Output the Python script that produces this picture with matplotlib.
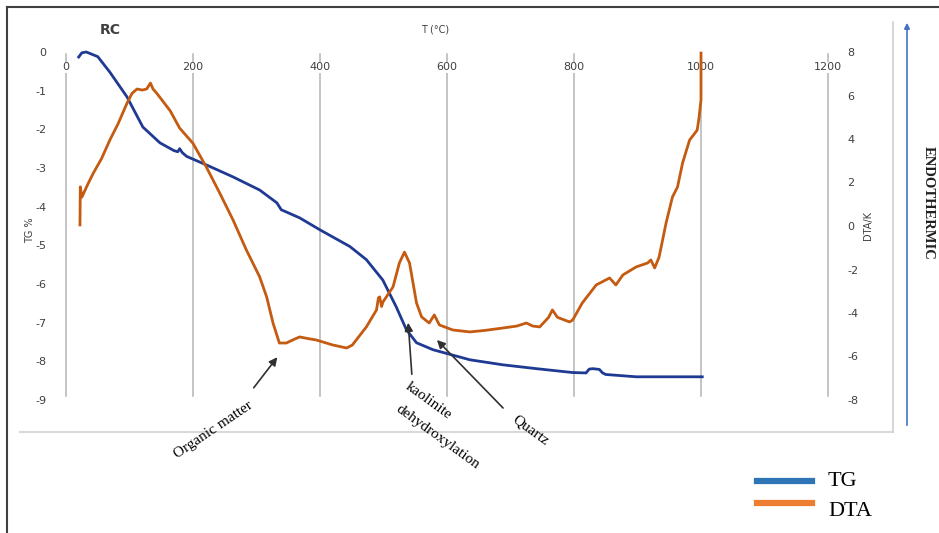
import numpy as np
import matplotlib
matplotlib.use("Agg")
import matplotlib.pyplot as plt
from matplotlib.patches import FancyArrowPatch

############################ Data ############################
# TG curve (left axis, %)
tg_T = [20, 25, 32, 50, 69, 96, 121, 148, 170, 176, 179, 183, 190, 221, 263, 305,
        332, 339, 368, 400, 447, 473, 499, 520, 536, 552, 578, 636, 688, 741,
        798, 819, 824, 830, 840, 845, 850, 898, 950, 1002]
tg = [-0.13, -0.02, 0.0, -0.12, -0.52, -1.16, -1.94, -2.35, -2.55, -2.58, -2.50,
      -2.60, -2.70, -2.92, -3.23, -3.57, -3.90, -4.08, -4.29, -4.60, -5.03, -5.37,
      -5.90, -6.59, -7.18, -7.52, -7.70, -7.96, -8.09, -8.19, -8.29, -8.30, -8.20,
      -8.19, -8.21, -8.30, -8.34, -8.40, -8.40, -8.40]

# DTA curve (right axis, K)
dta_T = [22, 22.5, 25, 34, 43, 56, 69, 82, 96, 104, 112, 120, 127, 133, 137, 143,
         164, 179, 200, 221, 242, 263, 284, 305, 316, 326, 336, 347, 357, 368, 380,
         394, 420, 442, 451, 473, 489, 492, 494, 497, 499, 515, 525, 533, 541, 552,
         560, 572, 580, 588, 609, 636, 660, 688, 710, 725, 735, 746, 760, 766, 774,
         793, 798, 813, 835, 856, 866, 877, 898, 916, 921, 927, 934, 945, 955, 963,
         971, 982, 994, 997, 1000, 1000]
dta = [0.05, 1.8, 1.33, 1.9, 2.43, 3.1, 3.95, 4.7, 5.64, 6.1, 6.3, 6.25, 6.3, 6.57,
       6.3, 6.1, 5.3, 4.5, 3.8, 2.71, 1.52, 0.28, -1.1, -2.34, -3.26, -4.46, -5.38,
       -5.38, -5.24, -5.10, -5.17, -5.24, -5.47, -5.61, -5.47, -4.64, -3.86, -3.3,
       -3.26, -3.7, -3.5, -2.8, -1.70, -1.2, -1.7, -3.54, -4.18, -4.46, -4.09,
       -4.55, -4.78, -4.87, -4.8, -4.69, -4.6, -4.46, -4.6, -4.64, -4.2, -3.86,
       -4.2, -4.41, -4.32, -3.54, -2.71, -2.39, -2.71, -2.25, -1.88, -1.7, -1.56,
       -1.93, -1.43, 0.14, 1.33, 1.79, 2.9, 3.95, 4.41, 5.0, 5.8, 7.95]

x_ticks = [0, 200, 400, 600, 800, 1000, 1200]
tg_ticks = [0, -1, -2, -3, -4, -5, -6, -7, -8, -9]
dta_ticks = [8, 6, 4, 2, 0, -2, -4, -6, -8]

tg_color = '#1f3a93'
dta_color = '#c55a11'
W, H = 939, 533

def px(x, y):
    # pixel -> figure fraction
    return (x / W, 1 - y / H)

############################ Figure ############################
fig = plt.figure(figsize=(W / 100, H / 100), dpi=100)
ax = fig.add_axes([66 / W, 1 - 400 / H, (828 - 66) / W, (400 - 52) / H])
ax.set_xlim(0, 1200)
ax.set_ylim(-9, 0)
for s in ax.spines.values():
    s.set_visible(False)

# vertical grid lines
for t in x_ticks:
    ax.plot([t, t], [-0.05, -8.9], color='#b4b4b4', lw=1.1, zorder=1, clip_on=False)
    ax.text(t, -0.4, str(t), ha='center', va='center', fontsize=8, color='#404040',
            bbox=dict(facecolor='white', edgecolor='none', pad=0.5), zorder=2)
ax.set_xticks([])
ax.set_yticks(tg_ticks)
ax.set_yticklabels([str(v) for v in tg_ticks], fontsize=8, color='#404040')
ax.tick_params(axis='y', length=0, pad=14)

ax.plot(tg_T, tg, color=tg_color, lw=2, zorder=4, clip_on=False)

ax2 = ax.twinx()
ax2.set_ylim(-8, 8)
for s in ax2.spines.values():
    s.set_visible(False)
ax2.set_yticks(dta_ticks)
ax2.set_yticklabels([str(v) for v in dta_ticks], fontsize=8, color='#404040')
ax2.tick_params(axis='y', length=0, pad=14)
ax2.plot(dta_T, dta, color=dta_color, lw=2, zorder=4, clip_on=False)

# axis titles
fig.text(*px(110, 30), 'RC', fontsize=10, fontweight='bold', color='#404040', ha='center', va='center')
fig.text(*px(435, 30), 'T (°C)', fontsize=7, color='#404040', ha='center', va='center')
fig.text(*px(30, 230), 'TG %', fontsize=7, color='#404040', rotation=90, ha='center', va='center')
fig.text(*px(868, 225), 'DTA/K', fontsize=7, color='#404040', rotation=90, ha='center', va='center')
fig.text(*px(928, 203), 'ENDOTHERMIC', fontsize=10.5, fontweight='bold', family='Liberation Serif',
         color='#202020', rotation=270, ha='center', va='center')

# frame bits
fig.add_artist(plt.Line2D([px(20, 0)[0], px(893, 0)[0]], [px(0, 432)[1]] * 2, color='#d9d9d9', lw=1.5))
fig.add_artist(plt.Line2D([px(893, 0)[0]] * 2, [px(0, 22)[1], px(0, 432)[1]], color='#d0d0d0', lw=1.2))
fig.add_artist(FancyArrowPatch(px(907, 428), px(907, 20), transform=fig.transFigure,
                               arrowstyle='-|>', mutation_scale=8, color='#4472c4', lw=1.2))
fig.add_artist(plt.Line2D([px(7, 0)[0], 1], [px(0, 7)[1]] * 2, color='#404040', lw=1.5))
fig.add_artist(plt.Line2D([px(7, 0)[0]] * 2, [px(0, 7)[1], 0], color='#404040', lw=1.5))

# annotations
ann_font = dict(family='Liberation Serif', fontsize=11, color='black')
fig.text(*px(213, 430), 'Organic matter', rotation=34, ha='center', va='center', **ann_font)
fig.text(*px(428, 401), 'kaolinite', rotation=-36, ha='center', va='center', **ann_font)
fig.text(*px(438, 437), 'dehydroxylation', rotation=-36, ha='center', va='center', **ann_font)
fig.text(*px(531, 430), 'Quartz', rotation=-36, ha='center', va='center', **ann_font)
for tail, head in [((252, 390), (279, 355)), ((412, 377), (408, 320)), ((505, 410), (435, 338))]:
    fig.add_artist(FancyArrowPatch(px(*tail), px(*head), transform=fig.transFigure,
                                   arrowstyle='-|>', mutation_scale=12, color='#303030', lw=1.2))

# legend
fig.add_artist(plt.Line2D([px(757, 0)[0], px(812, 0)[0]], [px(0, 481)[1]] * 2, color='#2e75b6', lw=4.5))
fig.add_artist(plt.Line2D([px(757, 0)[0], px(812, 0)[0]], [px(0, 503)[1]] * 2, color='#ed7d31', lw=4.5))
fig.text(*px(828, 481), 'TG', family='Liberation Serif', fontsize=16, ha='left', va='center')
fig.text(*px(828, 511), 'DTA', family='Liberation Serif', fontsize=16, ha='left', va='center')

fig.savefig('out.png', dpi=100)
